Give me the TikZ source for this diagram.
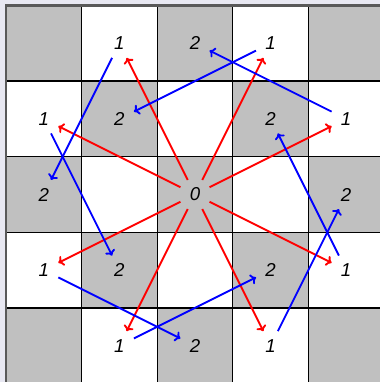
\documentclass[tikz,border=0pt]{standalone}
\usepackage{fontspec}
\setmainfont{Liberation Sans}
\usetikzlibrary{arrows.meta}
\definecolor{cellgray}{RGB}{192,192,192}
\definecolor{margincol}{RGB}{232,232,242}
\tikzset{
    mylabel/.style={circle,inner sep=0pt,minimum size=24pt,font=\fontsize{14}{16}\selectfont\itshape},
    redarrow/.style={draw=red,line width=1.4pt,-{To[length=4pt,width=8pt]}},
    bluearrow/.style={draw=blue,line width=1.4pt,-{To[length=4pt,width=8pt]}},
    gridline/.style={line width=1pt,draw=black},
    boardedge/.style={line width=1.6pt,draw=black!65}
}
\begin{document}
\begin{tikzpicture}[x=56.7pt,y=-56.7pt]
  \clip (-0.079,-0.073) rectangle (4.947,4.980);
  \fill[margincol] (-0.079,-0.073) rectangle (4.947,4.980);
  \fill[white] (0,0) rectangle (5,5);
  % checkerboard
  \foreach \i in {0,...,4}{
    \foreach \j in {0,...,4}{
      \pgfmathtruncatemacro\s{\i+\j}
      \ifodd\s\else\fill[cellgray] (\i,\j) rectangle ++(1,1);\fi
    }
  }
  \foreach \k in {1,...,4}{
    \draw[gridline] (\k,0) -- (\k,5);
    \draw[gridline] (0,\k) -- (5,\k);
  }
  \draw[boardedge] (0,0) rectangle (5,5);
  % labels
  \node[mylabel] (z) at (2.5,2.5) {0};
  \foreach \n/\i/\j in {a1/1/0,a2/3/0,a3/4/1,a4/4/3,a5/3/4,a6/1/4,a7/0/3,a8/0/1}
    \node[mylabel] (\n) at ({\i+.5},{\j+.5}) {1};
  \foreach \n/\i/\j in {b1/2/0,b2/3/1,b3/4/2,b4/3/3,b5/2/4,b6/1/3,b7/0/2,b8/1/1}
    \node[mylabel] (\n) at ({\i+.5},{\j+.5}) {2};
  % moves
  \foreach \k in {1,...,8}
    \draw[redarrow] (z) -- (a\k);
  \foreach \s/\t in {a3/b1,a2/b8,a1/b7,a8/b6,a7/b5,a6/b4,a5/b3,a4/b2}
    \draw[bluearrow] (\s) -- (\t);
\end{tikzpicture}
\end{document}
